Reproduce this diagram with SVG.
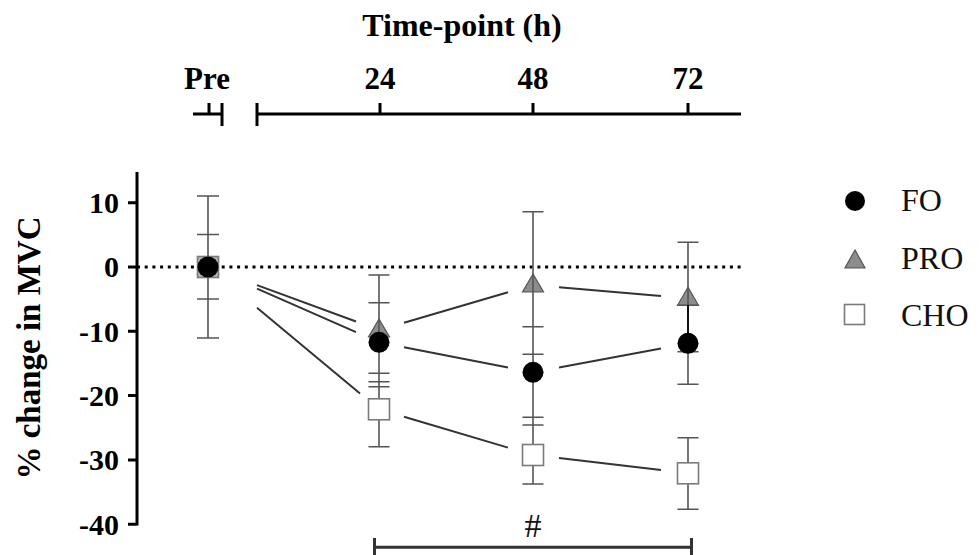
<svg xmlns="http://www.w3.org/2000/svg" width="979" height="555" viewBox="0 0 979 555">
<style>
.ax{stroke:#000;stroke-width:3;fill:none}
.bt{font-family:"Liberation Serif",serif;font-weight:bold;fill:#000}
.rt{font-family:"Liberation Serif",serif;fill:#111}
.eb{stroke:#555;stroke-width:1.6;fill:none}
.ebk{stroke:#111;stroke-width:2;fill:none}
.ln{stroke:#333;stroke-width:2;fill:none}
.fo{fill:#000}
.pro{fill:#8c8c8c;stroke:#555;stroke-width:1.2}
.cho{fill:#fff;stroke:#7a7a7a;stroke-width:1.6}
</style>
<rect width="979" height="555" fill="#fff"/>
<g id="title"><text class="bt" x="462" y="36" font-size="32" text-anchor="middle">Time-point (h)</text></g>
<g id="top-axis">
<path class="ax" d="M193 114H222M209 114V103M222 103V126M257 103V126M257 114H741M380 114V103M533 114V103M688 114V103"/>
<g class="bt" font-size="31" text-anchor="middle">
<text x="207" y="89">Pre</text><text x="380" y="89">24</text><text x="533" y="89">48</text><text x="688" y="89">72</text>
</g>
</g>
<g id="y-axis">
<path class="ax" d="M137 172V525.5M128 202.7H137M128 267H137M128 331.3H137M128 395.6H137M128 459.9H137M128 524.2H137"/>
<g class="bt" font-size="30" text-anchor="end">
<text x="119" y="213">10</text><text x="119" y="277">0</text><text x="119" y="342">-10</text><text x="119" y="406">-20</text><text x="119" y="470">-30</text><text x="119" y="535">-40</text>
</g>
<text class="bt" font-size="33" text-anchor="middle" transform="translate(40 348) rotate(-90)">% change in MVC</text>
</g>
<line x1="137" y1="267" x2="742" y2="267" stroke="#000" stroke-width="3" stroke-dasharray="3 4.7"/>
<g id="connectors">
<path class="ln" d="M257 285.1L356 321.5M404 322.7L508 292.3M559 287.2L661 296"/>
<path class="ln" d="M257 288.6L356 332.2M404 347.2L508 367.5M559 367.4L661 348.4"/>
<path class="ln" d="M257 307.8L360 393.5M404 416.7L508 447.6M559 458.1L661 470.1"/>
</g>
<g id="markers-pro">
<polygon class="pro" points="208,256 197.5,274 218.5,274"/>
<polygon class="pro" points="379,319 368.5,337 389.5,337"/>
<polygon class="pro" points="533,274 522.5,292 543.5,292"/>
<polygon class="pro" points="688,287.3 677.5,305.3 698.5,305.3"/>
</g>
<g id="error-bars">
<path class="eb" d="M208 196V338M197 196H219M197 234.5H219M197 299H219M197 338H219"/>
<path class="eb" d="M379 275V447M368.5 275H389.5M368.5 302.7H389.5M368.5 373.3H389.5M368.5 381.7H389.5M368.5 386.7H389.5M368.5 446.7H389.5"/>
<path class="eb" d="M533 211.7V484M522.5 211.7H543.5M522.5 326.7H543.5M522.5 354.3H543.5M522.5 417.3H543.5M522.5 425H543.5M522.5 484H543.5"/>
<path class="eb" d="M688 242.3V305M688 343V384.3M688 437.7V509.3M677.5 242.3H698.5M677.5 305.3H698.5M677.5 351.7H698.5M677.5 384.3H698.5M677.5 437.7H698.5M677.5 509.3H698.5"/>
<path class="ebk" d="M688 305V343"/>
</g>
<g id="markers-cho">
<rect class="cho" x="197.5" y="256.5" width="21" height="21" style="fill:#b5b5b5"/>
<rect class="cho" x="368.5" y="398.8" width="21" height="21"/>
<rect class="cho" x="522.5" y="444.5" width="21" height="21"/>
<rect class="cho" x="677.5" y="462.8" width="21" height="21"/>
</g>
<g id="markers-fo">
<circle class="fo" cx="208" cy="267" r="10.5"/>
<circle class="fo" cx="379" cy="342.3" r="10.5"/>
<circle class="fo" cx="533" cy="372.3" r="10.5"/>
<circle class="fo" cx="688" cy="343.3" r="10.5"/>
</g>
<g id="legend">
<g id="legend-fo"><circle class="fo" cx="855" cy="201" r="10"/><text class="rt" x="901" y="211" font-size="32">FO</text></g>
<g id="legend-pro"><polygon class="pro" points="855,250 845,268 865,268"/><text class="rt" x="901" y="269" font-size="32">PRO</text></g>
<g id="legend-cho"><rect class="cho" x="844.5" y="304.5" width="20" height="20"/><text class="rt" x="901" y="326" font-size="32">CHO</text></g>
</g>
<g id="significance">
<path d="M374.5 547.3H691.5M374.5 538V555M691.5 538V555" stroke="#333" stroke-width="3" fill="none"/>
<text class="rt" x="533" y="537" font-size="34" text-anchor="middle">#</text>
</g>
</svg>
